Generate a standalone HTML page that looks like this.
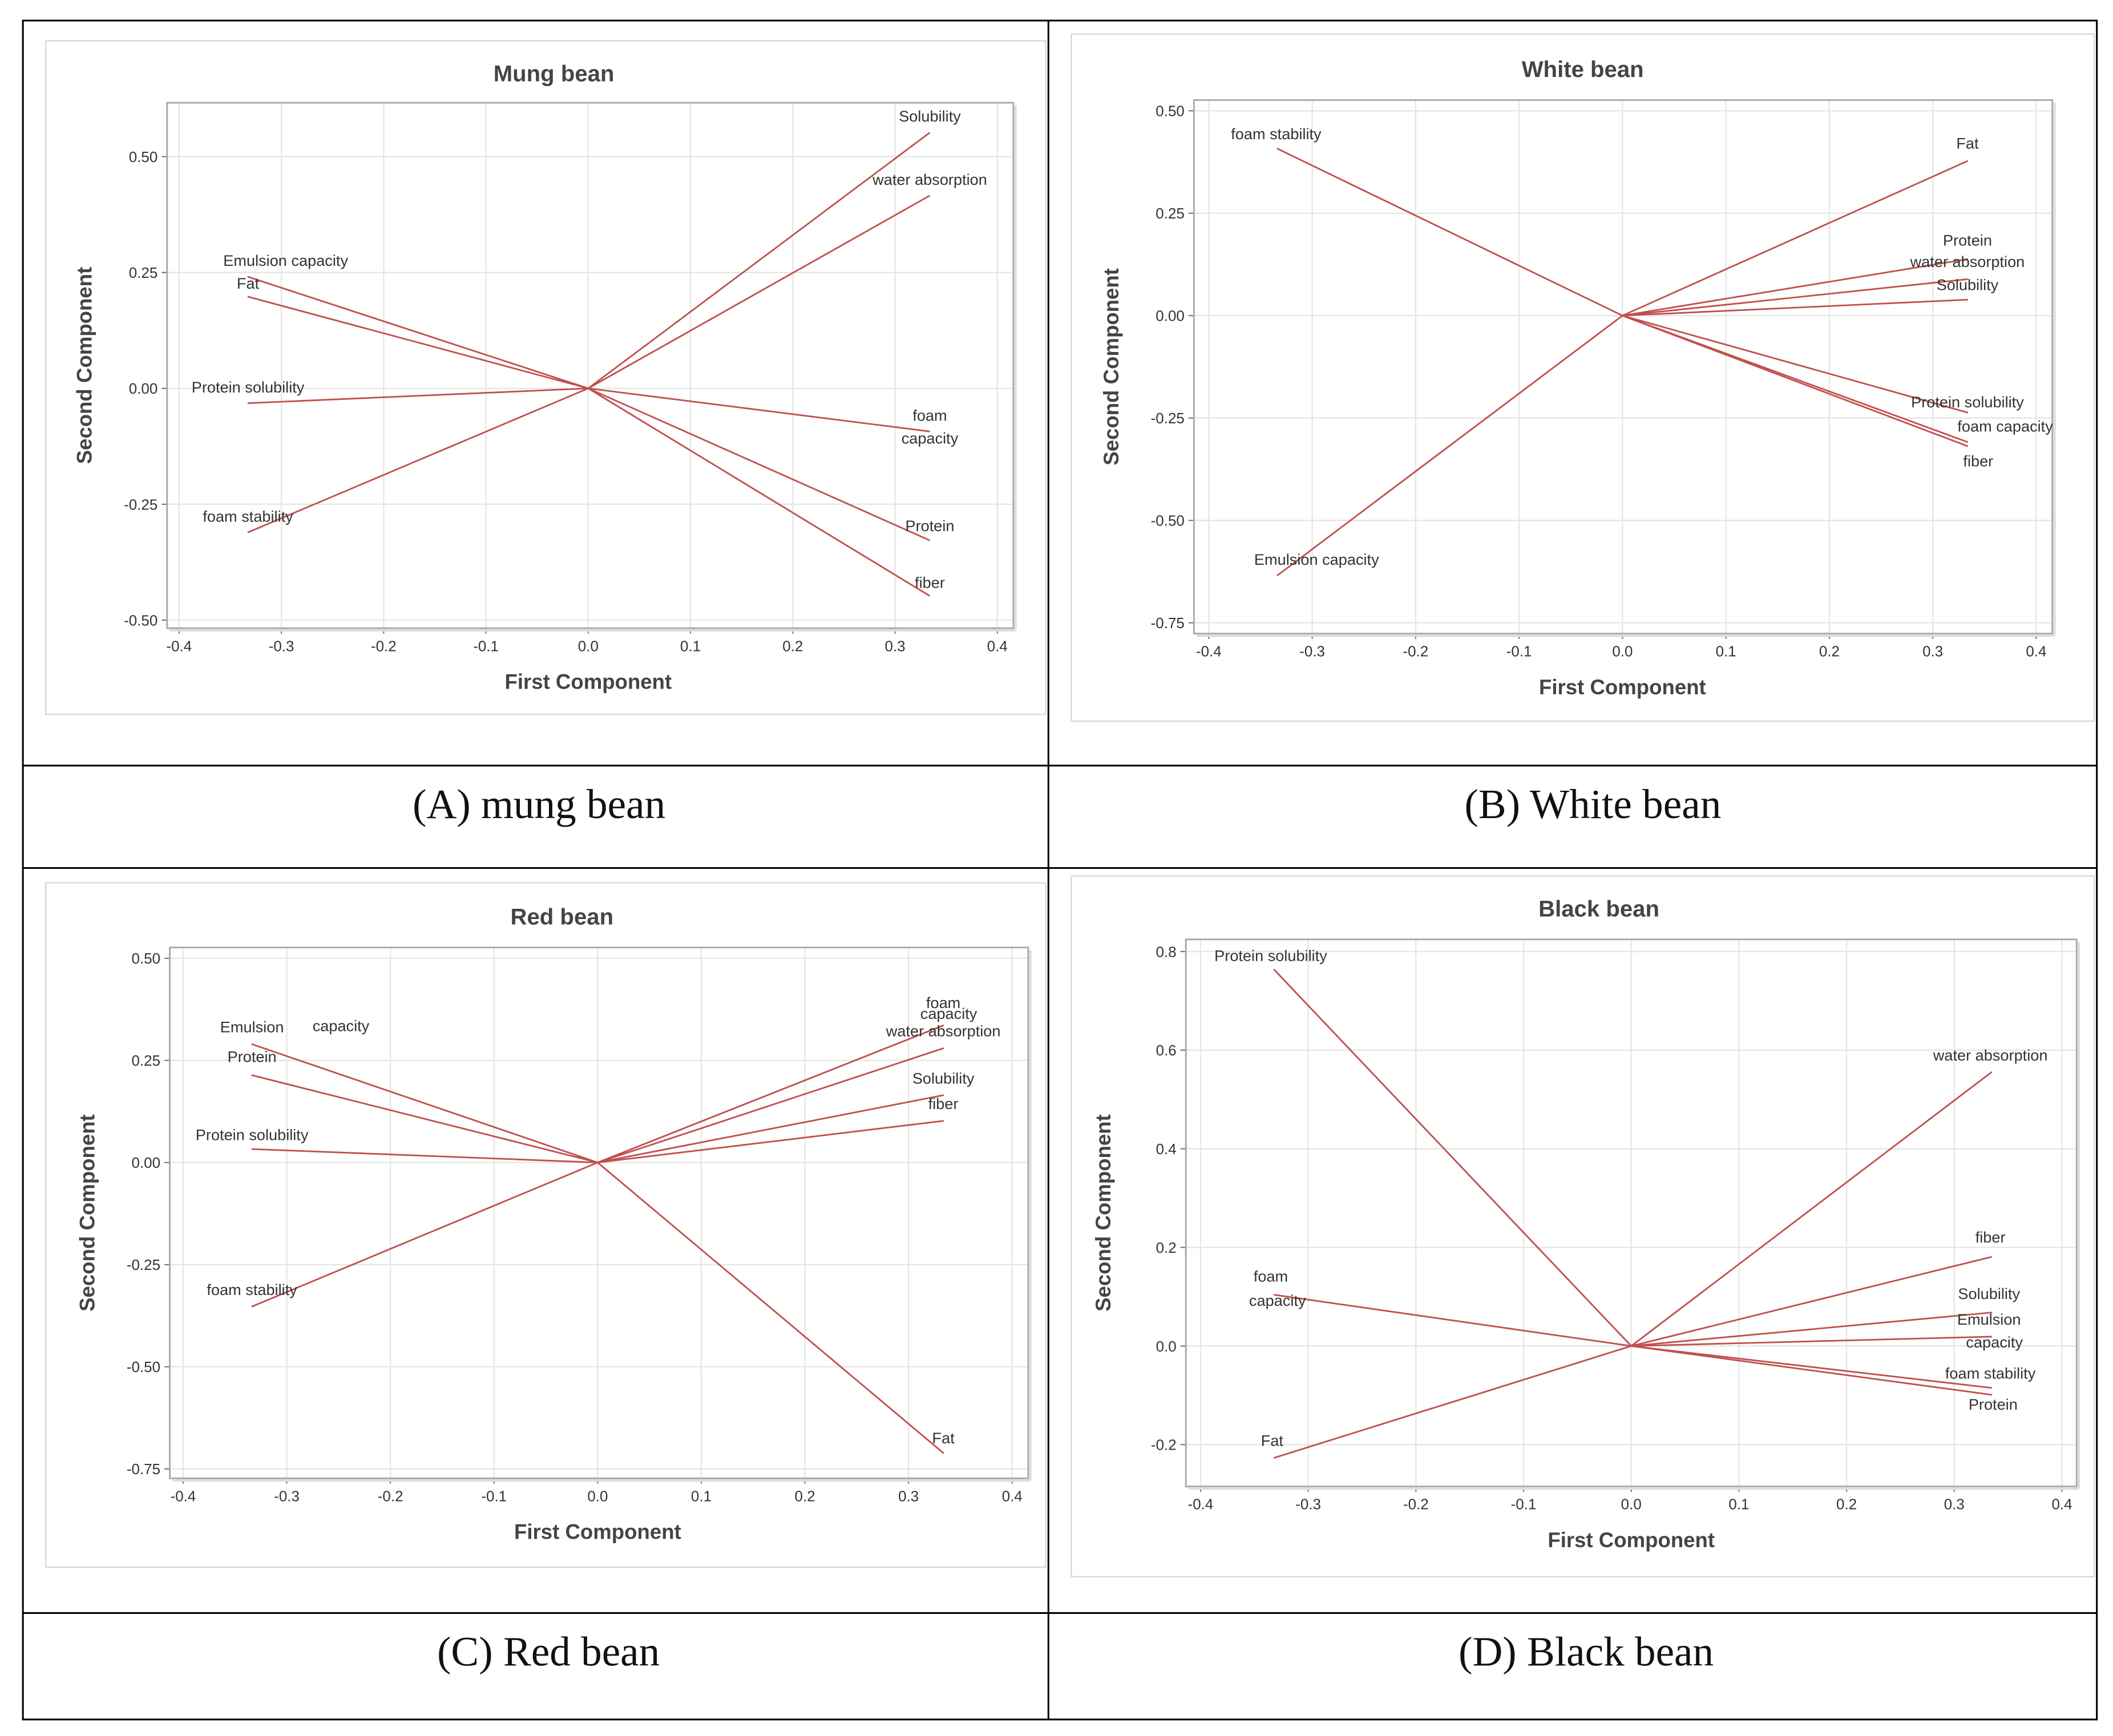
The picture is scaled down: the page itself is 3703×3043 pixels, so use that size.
<!DOCTYPE html>
<html><head><meta charset="utf-8"><style>
html,body{margin:0;padding:0;background:#fff;}
svg{display:block;}
text{font-family:"Liberation Sans",sans-serif;}
</style></head><body>
<svg id="fig" width="3703" height="3043" viewBox="0 0 1568 1288" xmlns="http://www.w3.org/2000/svg">
<g fill="none" stroke="#000" stroke-width="1.3">
<rect x="17" y="15" width="1539" height="1261"/>
<line x1="778" y1="15" x2="778" y2="1276"/>
<line x1="17" y1="568" x2="1556" y2="568"/>
<line x1="17" y1="644" x2="1556" y2="644"/>
<line x1="17" y1="1197" x2="1556" y2="1197"/>
</g>
<g font-size="31" fill="#111" text-anchor="middle">
<text x="400" y="607" style="font-family:'Liberation Serif',serif">(A) mung bean</text>
<text x="1182" y="607" style="font-family:'Liberation Serif',serif">(B) White bean</text>
<text x="407" y="1236" style="font-family:'Liberation Serif',serif">(C) Red bean</text>
<text x="1177" y="1236" style="font-family:'Liberation Serif',serif">(D) Black bean</text>
</g>
</svg>
<script>
// ---- Panel A: Mung bean ----
const aNames=["Solubility","water absorption","Emulsion capacity","Fat","Protein solubility","foam stability","foam capacity","Protein","fiber"];
const aPC1=[0.334,0.334,-0.333,-0.333,-0.333,-0.333,0.334,0.334,0.334];
const aPC2=[0.552,0.416,0.241,0.198,-0.032,-0.311,-0.093,-0.328,-0.448];
const aYTicks=[0.50,0.25,0.00,-0.25,-0.50];
// ---- Panel B: White bean ----
const bNames=["foam stability","Fat","Protein","water absorption","Solubility","Protein solubility","foam capacity","fiber","Emulsion capacity"];
const bPC1=[-0.334,0.334,0.334,0.334,0.334,0.334,0.334,0.334,-0.334];
const bPC2=[0.408,0.378,0.138,0.089,0.039,-0.237,-0.309,-0.319,-0.635];
const bYTicks=[0.50,0.25,0.00,-0.25,-0.50,-0.75];
// ---- Panel C: Red bean ----
const cNames=["Emulsion capacity","Protein","Protein solubility","foam stability","foam capacity","water absorption","Solubility","fiber","Fat"];
const cPC1=[-0.334,-0.334,-0.334,-0.334,0.334,0.334,0.334,0.334,0.334];
const cPC2=[0.290,0.214,0.033,-0.353,0.336,0.280,0.165,0.102,-0.712];
const cYTicks=[0.50,0.25,0.00,-0.25,-0.50,-0.75];
// ---- Panel D: Black bean ----
const dNames=["Protein solubility","water absorption","fiber","Solubility","Emulsion capacity","foam stability","Protein","foam capacity","Fat"];
const dPC1=[-0.332,0.335,0.335,0.335,0.335,0.335,0.335,-0.332,-0.332];
const dPC2=[0.764,0.556,0.181,0.068,0.019,-0.085,-0.099,0.104,-0.227];
const dYTicks=[0.8,0.6,0.4,0.2,0.0,-0.2];
const xTicks=[-0.4,-0.3,-0.2,-0.1,0.0,0.1,0.2,0.3,0.4];

const NS="http://www.w3.org/2000/svg";
const svg=document.getElementById('fig');
function mk(tag,attrs,parent,txt){const e=document.createElementNS(NS,tag);for(const k in attrs)e.setAttribute(k,attrs[k]);if(txt!==undefined)e.textContent=txt;parent.appendChild(e);return e;}

const panels=[
 {id:"a",title:"Mung bean",names:aNames,x:aPC1,y:aPC2,yt:aYTicks,ydec:2,box:[34,30,742,500],plot:[124,76,628,390],x0:436.5,xs:759,y0ref:[0.5,116,-0.5,460],titleY:54,
  labels:[[690,90],[690,137],[212,197],[184,214],[184,291],[184,387],[690,312],[690,394],[690,436]],split:{6:[[690,312],[690,329]]}},
 {id:"b",title:"White bean",names:bNames,x:bPC1,y:bPC2,yt:bYTicks,ydec:2,box:[795,25,759,510],plot:[886,74,637,396],x0:1204,xs:767.5,y0ref:[0.5,82,-0.75,462],titleY:51,
  labels:[[947,103],[1460,110],[1460,182],[1460,198],[1460,215],[1460,302],[1488,320],[1468,346],[977,419]],split:{}},
 {id:"c",title:"Red bean",names:cNames,x:cPC1,y:cPC2,yt:cYTicks,ydec:2,box:[34,655,742,508],plot:[126,703,637,394],x0:443.5,xs:769,y0ref:[0.5,711,-0.75,1090],titleY:680,
  labels:[[220,766],[187,788],[187,846],[187,961],[702,748],[700,769],[700,804],[700,823],[700,1071]],split:{0:[[187,766],[253,765]],4:[[700,748],[704,756]]}},
 {id:"d",title:"Black bean",names:dNames,x:dPC1,y:dPC2,yt:dYTicks,ydec:1,box:[795,650,759,520],plot:[880,697,661,406],x0:1210.5,xs:799,y0ref:[0.8,706,-0.2,1072],titleY:674,
  labels:[[943,713],[1477,787],[1477,922],[1476,964],[1476,983],[1477,1023],[1479,1046],[943,951],[944,1073]],split:{4:[[1476,983],[1480,1000]],7:[[943,951],[948,969]]}}
];

panels.forEach(p=>{
 const g=mk('g',{},svg);
 
 
 const X=v=>p.x0+v*p.xs;
 const [ya,ypa,yb,ypb]=p.y0ref;
 const Y=v=>ypa+(v-ya)*(ypb-ypa)/(yb-ya);
 const b=mk('rect',{x:p.box[0],y:p.box[1],width:p.box[2],height:p.box[3],fill:"#fff",stroke:"#d8d8d8","stroke-width":1},g);
 
 const [px,py,pw,ph]=p.plot;
 xTicks.forEach(t=>{const xx=X(t);
  const l=mk('line',{x1:xx,y1:py,x2:xx,y2:py+ph,stroke:"#e6e6e6","stroke-width":1},g);
  
  mk('line',{x1:xx,y1:py+ph,x2:xx,y2:py+ph+4,stroke:"#666","stroke-width":0.8},g);
  const tl=mk('text',{x:xx,y:py+ph+17,"font-size":11,fill:"#333","text-anchor":"middle"},g,(t===0?"0.0":t.toFixed(1)));
  
 });
 p.yt.forEach(t=>{const yy=Y(t);
  const l=mk('line',{x1:px,y1:yy,x2:px+pw,y2:yy,stroke:"#e6e6e6","stroke-width":1},g);
  
  mk('line',{x1:px-4,y1:yy,x2:px,y2:yy,stroke:"#666","stroke-width":0.8},g);
  const tl=mk('text',{x:px-7,y:yy+4,"font-size":11,fill:"#333","text-anchor":"end"},g,t.toFixed(p.ydec));
  
 });
 const fr=mk('rect',{x:px,y:py,width:pw,height:ph,fill:"none",stroke:"#a8a8a8","stroke-width":1.2},g);
 
 mk('line',{x1:px+pw+1.5,y1:py+2,x2:px+pw+1.5,y2:py+ph+1.5,stroke:"#ddd","stroke-width":2},g);
 mk('line',{x1:px+2,y1:py+ph+1.5,x2:px+pw+1.5,y2:py+ph+1.5,stroke:"#ddd","stroke-width":2},g);
 const tt=mk('text',{x:(p.box[0]*2+p.box[2])/2+(p.id==="a"?6:p.id==="c"?12:p.id==="d"?12:0),y:p.titleY+6,"font-size":17,"font-weight":"bold",fill:"#444","text-anchor":"middle"},g,p.title);
 
 const xt=mk('text',{x:X(0),y:py+ph+45,"font-size":15.5,"font-weight":"bold",fill:"#444","text-anchor":"middle"},g,"First Component");
 
 const ycx=px-56, ycy=py+ph/2;
 const yt=mk('text',{x:ycx,y:ycy,"font-size":15.5,"font-weight":"bold",fill:"#444","text-anchor":"middle",transform:`rotate(-90 ${ycx} ${ycy})`},g,"Second Component");
 
 p.names.forEach((n,i)=>{
  const ln=mk('line',{x1:X(0),y1:Y(0),x2:X(p.x[i]),y2:Y(p.y[i]),stroke:"#c0504d","stroke-width":1.2},g);
  
  const parts=p.split[i];
  if(parts){
   const w=n.split(' ');
   parts.forEach((pp,k)=>{const t=mk('text',{x:pp[0],y:pp[1],"font-size":11.5,fill:"#333","text-anchor":"middle"},g,w[k]);
    });
  } else {
   const lp=p.labels[i];
   const t=mk('text',{x:lp[0],y:lp[1],"font-size":11.5,fill:"#333","text-anchor":"middle"},g,n);
   
  }
 });
});
</script>
</body></html>
